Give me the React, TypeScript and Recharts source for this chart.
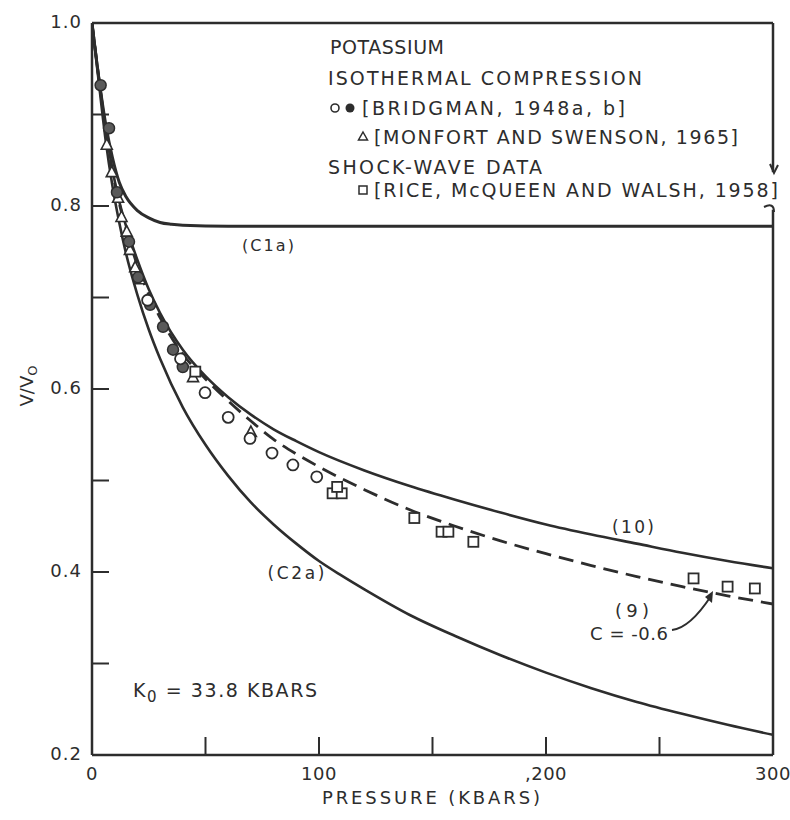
import { ComposedChart, Line, Scatter, XAxis, YAxis, ReferenceLine } from 'recharts';

const INK = '#2d2d2d';
const FONT = '"DejaVu Sans", sans-serif';

// pressure (kbar) / relative volume pairs
const c1aP = [0, 3, 6, 9, 12, 15, 20, 25, 30, 35, 40, 60, 150, 300];
const c1aV = [1.0, 0.94, 0.89, 0.853, 0.826, 0.81, 0.795, 0.787, 0.782, 0.78, 0.779, 0.778, 0.778, 0.778];

const eq10P = [0, 3, 6, 9, 12, 15, 20, 25, 30, 40, 50, 60, 70, 80, 90, 100, 120, 140, 160, 180, 200, 220, 240, 260, 280, 300];
const eq10V = [1.0, 0.94, 0.885, 0.84, 0.805, 0.778, 0.741, 0.709, 0.683, 0.643, 0.614, 0.591, 0.572, 0.556, 0.543, 0.531, 0.511, 0.494, 0.479, 0.465, 0.452, 0.441, 0.431, 0.421, 0.412, 0.404];

const eq9P = [0, 3, 6, 9, 12, 15, 20, 25, 30, 40, 50, 60, 70, 80, 90, 100, 120, 140, 160, 180, 200, 220, 240, 260, 280, 300];
const eq9V = [1.0, 0.94, 0.884, 0.838, 0.803, 0.775, 0.735, 0.703, 0.678, 0.638, 0.611, 0.587, 0.565, 0.545, 0.529, 0.515, 0.49, 0.468, 0.45, 0.434, 0.42, 0.407, 0.395, 0.384, 0.374, 0.365];

const c2aP = [0, 3, 6, 9, 12, 15, 20, 25, 30, 40, 50, 60, 70, 80, 90, 100, 110, 120, 140, 160, 180, 200, 220, 240, 260, 280, 300];
const c2aV = [1.0, 0.935, 0.872, 0.822, 0.782, 0.748, 0.703, 0.665, 0.633, 0.58, 0.539, 0.505, 0.476, 0.452, 0.431, 0.412, 0.396, 0.381, 0.353, 0.33, 0.309, 0.29, 0.273, 0.258, 0.245, 0.233, 0.222];

const bridgmanOpenP = [24.5, 39, 49.8, 60, 69.6, 79.3, 88.5, 99];
const bridgmanOpenV = [0.697, 0.633, 0.596, 0.569, 0.546, 0.53, 0.517, 0.504];

const bridgmanFilledP = [3.8, 7.5, 11, 16.3, 20.3, 25.6, 31.3, 35.7, 40];
const bridgmanFilledV = [0.932, 0.885, 0.815, 0.761, 0.722, 0.692, 0.668, 0.643, 0.624];

const monfortP = [6.5, 8.7, 11.5, 13, 15.3, 16.7, 19, 21, 44.5, 70];
const monfortV = [0.867, 0.837, 0.809, 0.788, 0.772, 0.752, 0.733, 0.72, 0.613, 0.553];

const riceP = [45.5, 106, 110, 108, 142, 154, 157, 168, 265, 280, 292];
const riceV = [0.619, 0.486, 0.486, 0.493, 0.459, 0.444, 0.444, 0.433, 0.393, 0.384, 0.382];

const xTicks = [0, 50, 100, 150, 200, 250, 300];
const xLabels: Record<string, string> = { '0': '0', '100': '100', '200': ',200', '300': '300' };
const yTicks = [0.2, 0.3, 0.4, 0.5, 0.6, 0.7, 0.8, 0.9, 1.0];
const yLabels: Record<string, string> = { '0.2': '0.2', '0.4': '0.4', '0.6': '0.6', '0.8': '0.8', '1.0': '1.0' };

const pairs = (p: number[], v: number[]) => p.map((x, i) => ({ p: x, v: v[i] }));

const XTick = (props: any) => {
  const { x, y, payload } = props;
  const val = payload.value;
  const label = xLabels[String(val)];
  return (
    <g>
      {val > 0 && val < 300 && <line x1={x} x2={x} y1={y} y2={y - 18} stroke={INK} strokeWidth={2} />}
      {label && (
        <text x={x} y={y + 18} textAnchor="middle" dominantBaseline="central" fontFamily={FONT} fontSize={18} letterSpacing={0.5} fill={INK}>
          {label}
        </text>
      )}
    </g>
  );
};

const YTick = (props: any) => {
  const { x, y, payload } = props;
  const val = payload.value;
  const label = yLabels[val.toFixed(1)];
  return (
    <g>
      {val > 0.25 && val < 0.95 && <line x1={x} x2={x + 17} y1={y} y2={y} stroke={INK} strokeWidth={2} />}
      {label && (
        <text x={x - 10} y={y - 2} textAnchor="end" dominantBaseline="central" fontFamily={FONT} fontSize={18} letterSpacing={1} fill={INK}>
          {label}
        </text>
      )}
    </g>
  );
};

const OpenCircle = (props: any) => (
  <circle cx={props.cx} cy={props.cy} r={5.5} fill="#fff" stroke={INK} strokeWidth={1.8} />
);
const FilledCircle = (props: any) => (
  <circle cx={props.cx} cy={props.cy} r={5.5} fill="#5a5a5a" stroke={INK} strokeWidth={1.5} />
);
const Triangle = (props: any) => {
  const { cx, cy } = props;
  return <path d={`M${cx},${cy - 6} L${cx + 5.5},${cy + 4.5} L${cx - 5.5},${cy + 4.5} Z`} fill="#fff" stroke={INK} strokeWidth={1.6} />;
};
const Square = (props: any) => (
  <rect x={props.cx - 5} y={props.cy - 5} width={10} height={10} fill="#fff" stroke={INK} strokeWidth={1.8} />
);

const txt = { fontFamily: FONT, fill: INK, dominantBaseline: 'central' as const };

export default function App() {
  return (
    <div style={{ position: 'absolute', left: 0, top: 0, width: 790, height: 820, background: '#fff' }}>
      <ComposedChart width={790} height={820} margin={{ top: 23, right: 17, left: 0, bottom: 0 }}>
        <XAxis
          dataKey="p"
          type="number"
          domain={[0, 300]}
          ticks={xTicks}
          interval={0}
          height={65}
          tickSize={0}
          tickMargin={0}
          tickLine={false}
          tick={<XTick />}
          axisLine={{ stroke: INK, strokeWidth: 2.5 }}
          allowDataOverflow
        />
        <YAxis
          dataKey="v"
          type="number"
          domain={[0.2, 1.0]}
          ticks={yTicks}
          interval={0}
          width={92}
          tickSize={0}
          tickMargin={0}
          tickLine={false}
          tick={<YTick />}
          axisLine={{ stroke: INK, strokeWidth: 2.5 }}
          allowDataOverflow
        />
        <ReferenceLine y={1.0} stroke={INK} strokeWidth={2.5} />
        <ReferenceLine segment={[{ x: 300, y: 1.0 }, { x: 300, y: 0.837 }]} stroke={INK} strokeWidth={2.5} />
        <ReferenceLine segment={[{ x: 300, y: 0.796 }, { x: 300, y: 0.2 }]} stroke={INK} strokeWidth={2.5} />

        <Line data={pairs(c1aP, c1aV)} dataKey="v" type="monotone" stroke={INK} strokeWidth={3} dot={false} isAnimationActive={false} />
        <Line data={pairs(eq10P, eq10V)} dataKey="v" type="monotone" stroke={INK} strokeWidth={2.6} dot={false} isAnimationActive={false} />
        <Line data={pairs(eq9P, eq9V)} dataKey="v" type="monotone" stroke={INK} strokeWidth={2.8} strokeDasharray="15 8" dot={false} isAnimationActive={false} />
        <Line data={pairs(c2aP, c2aV)} dataKey="v" type="monotone" stroke={INK} strokeWidth={2.6} dot={false} isAnimationActive={false} />

        <Scatter data={pairs(monfortP, monfortV)} dataKey="v" shape={<Triangle />} isAnimationActive={false} />
        <Scatter data={pairs(bridgmanFilledP, bridgmanFilledV)} dataKey="v" shape={<FilledCircle />} isAnimationActive={false} />
        <Scatter data={pairs(bridgmanOpenP, bridgmanOpenV)} dataKey="v" shape={<OpenCircle />} isAnimationActive={false} />
        <Scatter data={pairs(riceP, riceV)} dataKey="v" shape={<Square />} isAnimationActive={false} />
      </ComposedChart>

      <svg width={790} height={820} style={{ position: 'absolute', left: 0, top: 0, pointerEvents: 'none' }}>
        {/* axis titles */}
        <text x={431} y={797} textAnchor="middle" fontSize={18} textLength={218} lengthAdjust="spacing" {...txt}>PRESSURE (KBARS)</text>
        <text transform="translate(26,386) rotate(-90)" textAnchor="middle" fontSize={18} {...txt}>
          V/V<tspan fontSize={13} dy={6}>O</tspan>
        </text>

        {/* legend */}
        <text x={330} y={47} fontSize={19} textLength={114} lengthAdjust="spacing" {...txt}>POTASSIUM</text>
        <text x={328} y={78} fontSize={19} textLength={314} lengthAdjust="spacing" {...txt}>ISOTHERMAL COMPRESSION</text>
        <circle cx={335} cy={108} r={4} fill="#fff" stroke={INK} strokeWidth={1.6} />
        <circle cx={350} cy={108} r={4.5} fill={INK} />
        <text x={362} y={108} fontSize={19} textLength={263} lengthAdjust="spacing" {...txt}>[BRIDGMAN, 1948a, b]</text>
        <path d="M363,132 L367.5,140 L358.5,140 Z" fill="#fff" stroke={INK} strokeWidth={1.5} />
        <text x={374} y={137} fontSize={19} textLength={364} lengthAdjust="spacing" {...txt}>[MONFORT AND SWENSON, 1965]</text>
        <text x={328} y={167} fontSize={19} textLength={214} lengthAdjust="spacing" {...txt}>SHOCK-WAVE DATA</text>
        <rect x={359} y={186} width={8} height={8} fill="#fff" stroke={INK} strokeWidth={1.5} />
        <text x={374} y={190} fontSize={19} textLength={404} lengthAdjust="spacing" {...txt}>[RICE, McQUEEN AND WALSH, 1958]</text>
        <path d="M770,164 L774,173 L778,165" fill="none" stroke={INK} strokeWidth={2} />
        <path d="M764,207 Q774,202 774,212" fill="none" stroke={INK} strokeWidth={2} />

        {/* curve labels */}
        <text x={268} y={245} textAnchor="middle" fontSize={16} textLength={52} lengthAdjust="spacing" {...txt}>(C1a)</text>
        <text x={633} y={527} textAnchor="middle" fontSize={17} textLength={42} lengthAdjust="spacing" {...txt}>(10)</text>
        <text x={296} y={573} textAnchor="middle" fontSize={17} textLength={57} lengthAdjust="spacing" {...txt}>(C2a)</text>
        <text x={632} y={610} textAnchor="middle" fontSize={18} textLength={34} lengthAdjust="spacing" {...txt}>(9)</text>
        <text x={590} y={633} fontSize={18} textLength={78} lengthAdjust="spacing" {...txt}>C = -0.6</text>
        <path d="M672,630 Q690,628 711,596" fill="none" stroke={INK} strokeWidth={2} />
        <path d="M713,591 L712,603 L705,597 Z" fill={INK} />

        <text x={133} y={690} fontSize={19} textLength={184} lengthAdjust="spacing" {...txt}>
          K<tspan fontSize={15} dy={7}>0</tspan><tspan dy={-7}> = 33.8 KBARS</tspan>
        </text>
      </svg>
    </div>
  );
}
